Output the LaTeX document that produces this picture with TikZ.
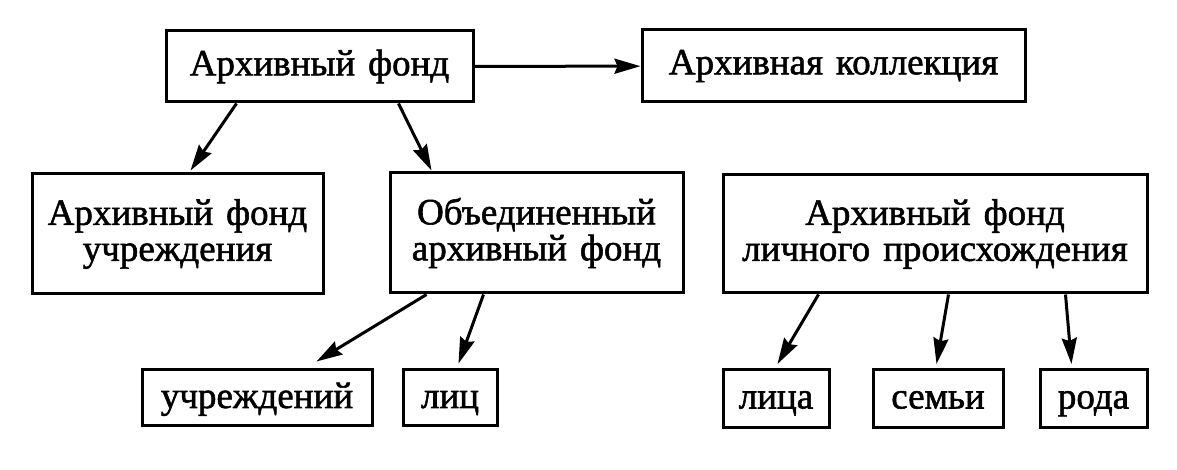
\documentclass[tikz,border=0pt]{standalone}
\usepackage{fontspec}
\setmainfont{Liberation Serif}[RawFeature={embolden=1.5}]
\usetikzlibrary{arrows.meta}
\newcommand\schrift{\fontsize{37}{36}\selectfont\spaceskip=13pt plus 2pt minus 2pt\relax}
\begin{document}
\begin{tikzpicture}[x=1pt,y=1pt,
	kasten/.style={draw, line width=3pt, inner sep=0pt, align=center, font=\schrift},
	zeile/.style={text height=28pt, text depth=8pt},
	pfeil/.style={line width=3pt, -{Stealth[length=26pt,width=15pt,inset=3pt]}}]
	\useasboundingbox (0,0) rectangle (1177,470);
	\node[kasten, minimum width=307pt, minimum height=71pt] (fond) at (319.5,403.5) {Архивный фонд};
	\node[kasten, minimum width=383pt, minimum height=72pt] (koll) at (833.5,404) {Архивная коллекция};
	\node[kasten, minimum width=291pt, minimum height=120pt] (uchr) at (177.5,236) {Архивный фонд\\учреждения};
	\node[kasten, minimum width=293pt, minimum height=120pt] (obed) at (536.5,237) {Объединенный\\архивный фонд};
	\node[kasten, minimum width=424pt, minimum height=118pt] (lich) at (935,236) {Архивный фонд\\личного происхождения};
	\node[kasten, zeile, minimum width=230pt, minimum height=56pt] (uchd) at (257,72) {учреждений};
	\node[kasten, zeile, minimum width=94pt, minimum height=56pt] (lic) at (450,72) {лиц};
	\node[kasten, zeile, minimum width=106pt, minimum height=58pt] (lica) at (776,71.5) {лица};
	\node[kasten, zeile, minimum width=130pt, minimum height=58pt] (semi) at (938,71.5) {семьи};
	\node[kasten, zeile, minimum width=107pt, minimum height=58pt] (roda) at (1093.5,71.5) {рода};
	\draw[pfeil] (fond) -- (koll);
	\draw[pfeil] ([xshift=72pt]fond.south west) -- ([xshift=160pt,yshift=2pt]uchr.north west);
	\draw[pfeil] ([xshift=234pt]fond.south west) -- ([xshift=43pt,yshift=1pt]obed.north west);
	\draw[pfeil] ([xshift=38pt]obed.south west) -- ([xshift=176pt,yshift=7pt]uchd.north west);
	\draw[pfeil] ([xshift=95pt]obed.south west) -- ([xshift=57pt,yshift=5pt]lic.north west);
	\foreach \von/\ziel/\dx in {97/lica/56, 227/semi/65, 344/roda/33}
		\draw[pfeil] ([xshift=\von pt]lich.south west) -- ([xshift=\dx pt,yshift=4pt]\ziel.north west);
\end{tikzpicture}
\end{document}
